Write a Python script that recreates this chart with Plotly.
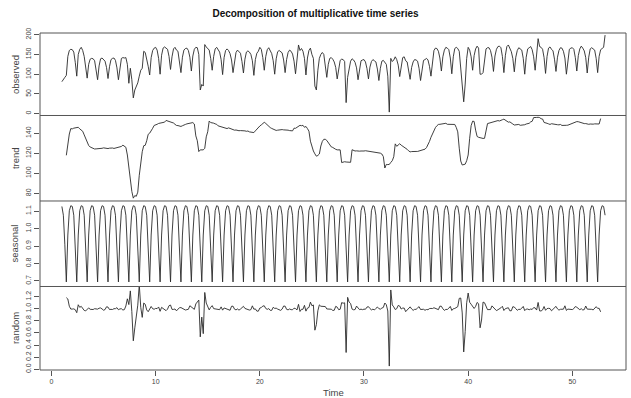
import numpy as np
import plotly.graph_objects as go
from plotly.subplots import make_subplots

# Daily series, frequency 7 (one cycle per week), starting at time 1
FREQ = 7
START = 1
observed = [
    81, 88, 92, 97, 145, 160, 163,
    162, 156, 130, 95, 150, 163, 168,
    160, 145, 118, 90, 125, 138, 140,
    139, 134, 112, 86, 121, 139, 141,
    138, 133, 117, 89, 119, 137, 140,
    141, 135, 116, 86, 121, 140, 142,
    141, 142, 125, 77, 115, 86, 40,
    60, 70, 78, 95, 110, 115, 158,
    155, 140, 120, 98, 142, 160, 166,
    168, 161, 140, 100, 148, 166, 169,
    167, 163, 145, 112, 144, 164, 168,
    161, 158, 136, 104, 143, 161, 165,
    166, 160, 143, 108, 146, 163, 168,
    167, 150, 60, 74, 70, 175, 169,
    166, 161, 140, 110, 145, 164, 168,
    163, 156, 137, 99, 142, 160, 164,
    160, 152, 136, 104, 137, 155, 161,
    157, 153, 132, 103, 138, 156, 159,
    156, 150, 134, 97, 137, 153, 158,
    168, 163, 142, 110, 145, 162, 167,
    160, 152, 134, 100, 139, 157, 160,
    158, 154, 136, 104, 137, 155, 161,
    158, 151, 133, 101, 138, 174, 160,
    165, 158, 140, 98, 141, 160, 166,
    150, 140, 70, 60, 110, 140, 150,
    155, 150, 126, 92, 125, 140, 142,
    138, 131, 117, 88, 117, 135, 138,
    137, 132, 28, 92, 119, 133, 139,
    136, 130, 116, 86, 116, 134, 136,
    137, 131, 114, 88, 118, 132, 137,
    134, 131, 113, 84, 115, 133, 135,
    130, 125, 95, 4, 140, 132, 136,
    144, 137, 123, 94, 123, 142, 144,
    134, 131, 113, 87, 117, 131, 137,
    136, 133, 115, 84, 117, 135, 137,
    140, 136, 120, 95, 135, 160, 166,
    165, 158, 141, 108, 144, 161, 168,
    166, 162, 141, 101, 144, 165, 168,
    165, 158, 120, 70, 30, 75, 140,
    168, 161, 144, 110, 147, 164, 171,
    166, 100, 100, 104, 143, 164, 167,
    167, 160, 143, 107, 146, 163, 170,
    171, 167, 145, 104, 148, 170, 174,
    165, 157, 140, 106, 143, 160, 167,
    165, 161, 140, 100, 143, 164, 167,
    170, 162, 144, 110, 147, 190, 170,
    168, 163, 142, 102, 145, 166, 169,
    163, 159, 138, 107, 143, 160, 167,
    166, 158, 141, 100, 142, 163, 166,
    167, 163, 142, 108, 147, 164, 171,
    166, 159, 142, 103, 143, 164, 167,
    165, 161, 140, 104, 145, 162, 165,
    168, 199,
]

panel_names = ["observed", "trend", "seasonal", "random"]
x_ticks = [0, 10, 20, 30, 40, 50]
y_ticks = {
    "observed": [0, 50, 100, 150, 200],
    "trend": [80, 100, 120, 140],
    "seasonal": [0.7, 0.8, 0.9, 1.0, 1.1],
    "random": [0.0, 0.2, 0.4, 0.6, 0.8, 1.0, 1.2],
}
y_tick_text = {
    "observed": ["0", "50", "100", "150", "200"],
    "trend": ["80", "100", "120", "140"],
    "seasonal": ["0.7", "0.8", "0.9", "1.0", "1.1"],
    "random": ["0.0", "0.2", "0.4", "0.6", "0.8", "1.0", "1.2"],
}

# Classical multiplicative decomposition (centred moving average trend)
x = np.asarray(observed, dtype=float)
n = len(x)
t = START + np.arange(n) / FREQ
half = FREQ // 2
trend = np.full(n, np.nan)
for i in range(half, n - half):
    trend[i] = x[i - half:i + half + 1].mean()
ratio = x / trend
pos = np.arange(n) % FREQ
figure = np.array([np.nanmean(ratio[pos == p]) for p in range(FREQ)])
figure = figure / figure.mean()
seasonal = figure[pos]
random = x / (trend * seasonal)

series = {"observed": x, "trend": trend, "seasonal": seasonal, "random": random}
y_ranges = {
    "observed": [-4.6, 204.3],
    "trend": [72.3, 157.8],
    "seasonal": [0.668, 1.158],
    "random": [-0.012, 1.369],
}

fig = make_subplots(rows=4, cols=1, shared_xaxes=True, vertical_spacing=0)
domains = [[0.7552, 1.0], [0.5015, 0.7552], [0.2478, 0.5015], [0.0, 0.2478]]

ink = "#2a2a2a"
frame = "#555555"
label_col = "#444444"
font_family = "Liberation Sans, Arial"

for r, name in enumerate(panel_names, start=1):
    fig.add_trace(
        go.Scatter(x=t, y=series[name], mode="lines",
                   line=dict(color=ink, width=0.9), showlegend=False,
                   hoverinfo="skip"),
        row=r, col=1,
    )
    yid = "yaxis" if r == 1 else f"yaxis{r}"
    xid = "xaxis" if r == 1 else f"xaxis{r}"
    fig.layout[yid].update(
        domain=domains[r - 1], range=y_ranges[name],
        tickvals=y_ticks[name], ticktext=y_tick_text[name],
        tickangle=-90, ticks="outside", ticklen=5, tickwidth=1,
        tickcolor=frame,
        tickfont=dict(size=7, color=label_col, family=font_family),
        showline=False, showgrid=False, zeroline=False,
    )
    fig.layout[xid].update(
        range=[-1.1, 55.15], showline=False, showgrid=False, zeroline=False,
        tickvals=x_ticks, ticks="outside" if r == 4 else "",
        ticklen=5, tickwidth=1, tickcolor=frame, showticklabels=(r == 4),
        tickfont=dict(size=7, color=label_col, family=font_family),
    )
    mid = (domains[r - 1][0] + domains[r - 1][1]) / 2
    fig.add_annotation(
        text=name, xref="paper", yref="paper", x=-0.043, y=mid,
        textangle=-90, showarrow=False, xanchor="center", yanchor="middle",
        font=dict(size=9.5, color=label_col, family=font_family),
    )

# Panel frames: outer box plus the boundaries between stacked panels
fig.add_shape(type="rect", xref="paper", yref="paper", x0=0, x1=1, y0=0, y1=1,
              line=dict(color=frame, width=1), fillcolor="rgba(0,0,0,0)")
for lo, hi in domains[:-1]:
    fig.add_shape(type="line", xref="paper", yref="paper", x0=0, x1=1,
                  y0=lo, y1=lo, line=dict(color=frame, width=1))

fig.add_annotation(
    text="Time", xref="paper", yref="paper", x=0.5, y=-0.066,
    showarrow=False, xanchor="center", yanchor="middle",
    font=dict(size=9.5, color=label_col, family=font_family),
)

fig.update_layout(
    width=631, height=398,
    margin=dict(l=40, r=5, t=33, b=28),
    paper_bgcolor="white", plot_bgcolor="white",
    title=dict(text="<b>Decomposition of multiplicative time series</b>",
               x=0.5, xanchor="center", y=0.967, yanchor="middle",
               font=dict(size=10, color="#111111", family=font_family)),
)

fig.write_html("out.html")
